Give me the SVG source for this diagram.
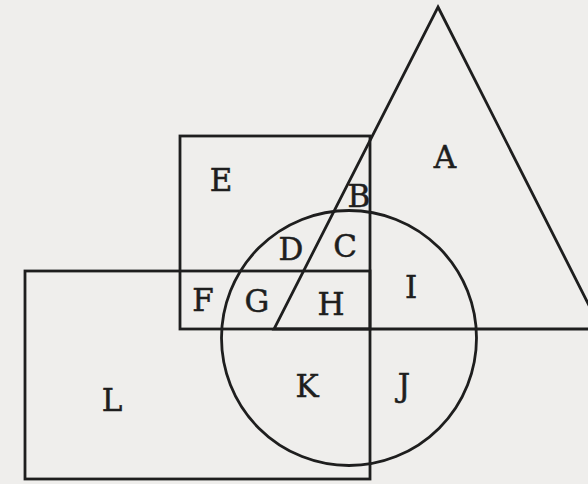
<svg xmlns="http://www.w3.org/2000/svg" width="588" height="484" viewBox="0 0 588 484">
<style>
.s{fill:none;stroke:#1e1e1e;stroke-width:2.8;stroke-linejoin:miter}
.t{font-family:"DejaVu Serif","Liberation Serif",serif;font-size:31px;fill:#1e1e1e;stroke:#1e1e1e;stroke-width:0.5;text-anchor:middle}
</style>
<rect width="588" height="484" fill="#efeeec"/>
<g id="shapes">
<polygon id="triangle" class="s" points="438,7 601,329 274,329"/>
<rect id="rect-upper" class="s" x="180" y="136" width="190" height="193"/>
<rect id="rect-lower" class="s" x="25" y="271" width="345" height="208"/>
<circle id="circle" class="s" cx="349" cy="338" r="127.5"/>
</g>
<g id="labels">
<text class="t" x="445" y="168">A</text>
<text class="t" x="359" y="207">B</text>
<text class="t" x="345" y="257">C</text>
<text class="t" x="291" y="260">D</text>
<text class="t" x="221" y="191">E</text>
<text class="t" x="203" y="311">F</text>
<text class="t" x="257" y="312">G</text>
<text class="t" x="331" y="315">H</text>
<text class="t" x="411" y="298">I</text>
<text class="t" x="404" y="396">J</text>
<text class="t" x="307" y="397">K</text>
<text class="t" x="112" y="411">L</text>
</g>
</svg>
